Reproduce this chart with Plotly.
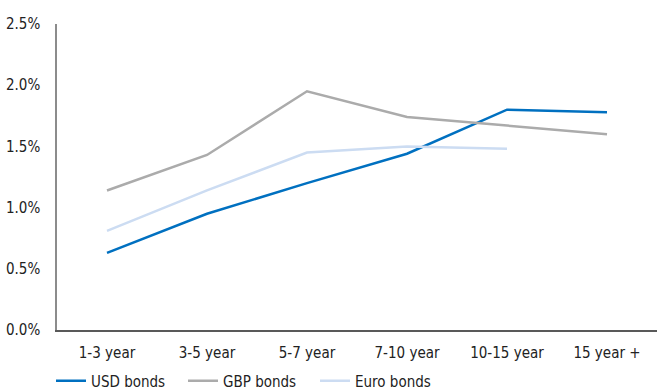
import plotly.graph_objects as go

# Yield by maturity bucket (%)
maturities = ["1-3 year", "3-5 year", "5-7 year", "7-10 year", "10-15 year", "15 year +"]
usd_bonds = [0.63, 0.95, 1.20, 1.44, 1.80, 1.78]
gbp_bonds = [1.14, 1.43, 1.95, 1.74, 1.67, 1.60]
euro_bonds = [0.81, 1.14, 1.45, 1.50, 1.48, None]

y_ticks = [0.0, 0.5, 1.0, 1.5, 2.0, 2.5]
y_tick_labels = [f"{v:.1f}%" for v in y_ticks]

FONT = "DejaVu Sans Condensed, Liberation Sans Narrow, sans-serif"

series = [
    ("USD bonds", usd_bonds, "#0070C0"),
    ("GBP bonds", gbp_bonds, "#ABABAB"),
    ("Euro bonds", euro_bonds, "#CCDCF2"),
]

fig = go.Figure()
for name, vals, color in series:
    fig.add_trace(go.Scatter(
        x=maturities, y=vals, name=name, mode="lines",
        line=dict(color=color, width=2.5),
        connectgaps=False,
    ))

fig.update_layout(
    width=657, height=390,
    margin=dict(l=57, r=0, t=24, b=60, autoexpand=False),
    paper_bgcolor="white", plot_bgcolor="white",
    font=dict(family=FONT, size=15, color="#222222"),
    showlegend=True,
    legend=dict(
        orientation="h", x=-0.01, xanchor="left", y=-0.167, yanchor="middle",
        entrywidth=87, entrywidthmode="pixels",
        font=dict(family=FONT, size=15, color="#222222"),
        bgcolor="rgba(0,0,0,0)",
    ),
    xaxis=dict(
        type="category", range=[-0.5, 5.5], automargin=False,
        showgrid=False, zeroline=False,
        showline=True, linecolor="#595959", linewidth=1.5,
        ticks="", ticklabelstandoff=8,
    ),
    yaxis=dict(
        range=[0, 2.5], tickmode="array", tickvals=y_ticks, ticktext=y_tick_labels,
        automargin=False,
        showgrid=False, zeroline=False,
        showline=True, linecolor="#8C8C8C", linewidth=1.5,
        ticks="", ticklabelstandoff=12,
    ),
)

fig.write_html("out.html")
